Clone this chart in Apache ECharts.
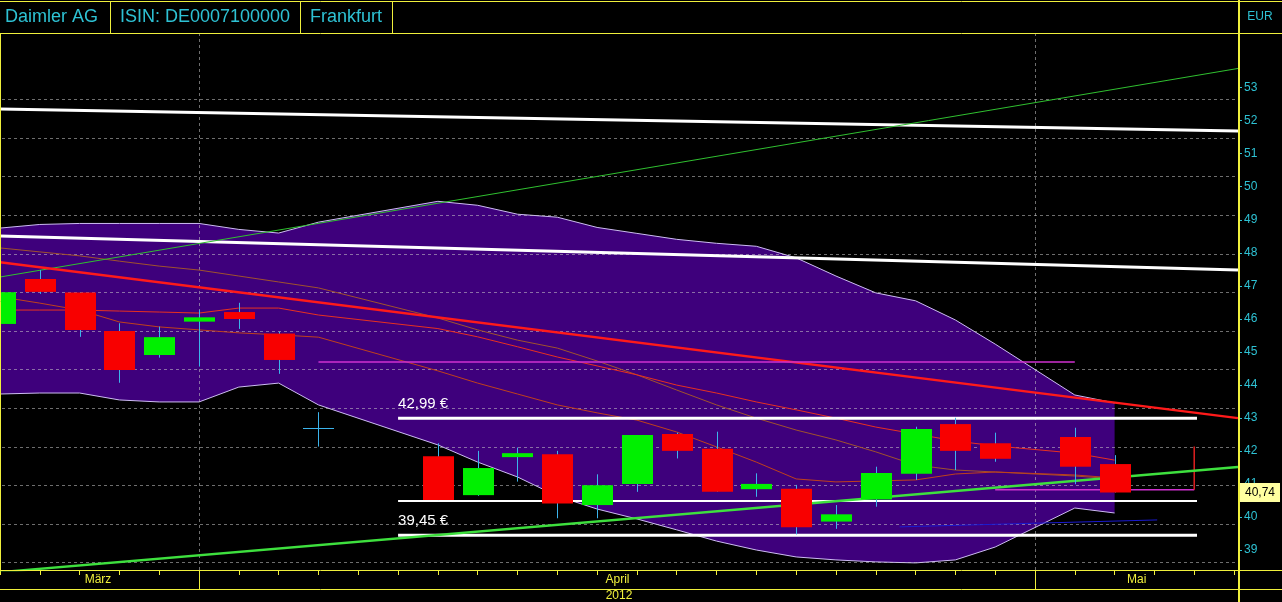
<!DOCTYPE html>
<html><head><meta charset="utf-8">
<script src="https://cdn.jsdelivr.net/npm/echarts@6/dist/echarts.min.js"></script>
<style>html,body{margin:0;padding:0;background:#000;}#c{width:1282px;height:602px;}</style>
</head><body><div id="c"></div>
<script>
// ---- data ----
const days = ['26.03.','27.03.','28.03.','29.03.','30.03.','02.04.','03.04.','04.04.','05.04.','06.04.','09.04.','10.04.','11.04.','12.04.','13.04.','16.04.','17.04.','18.04.','19.04.','20.04.','23.04.','24.04.','25.04.','26.04.','27.04.','30.04.','01.05.','02.05.','03.05.','04.05.','07.05.','08.05.'];
const opens  = [45.84,47.20,46.79,45.63,44.90,45.91,46.20,45.55,42.68,null,null,41.84,40.66,41.81,41.90,40.36,41.00,42.51,42.06,40.84,40.85,39.86,40.53,41.31,42.81,42.23,null,42.42,41.60];
const closes = [46.80,46.81,45.66,44.45,45.44,46.04,45.99,44.75,42.68,null,null,40.51,41.48,41.93,40.41,40.96,42.48,42.00,40.76,41.00,39.69,40.08,41.33,42.66,42.00,41.76,null,41.52,40.74];
const lows   = [45.57,46.75,45.45,44.06,44.82,44.55,45.69,44.33,42.13,null,null,40.51,40.64,41.07,39.96,39.96,40.76,41.77,40.76,40.61,39.47,39.64,40.31,41.12,41.42,41.67,null,40.99,40.74];
const highs  = [47.08,47.47,46.80,45.86,45.76,46.26,46.48,45.60,43.17,null,null,42.23,42.00,42.10,42.00,41.29,42.48,42.55,42.58,41.32,40.97,40.36,41.52,42.73,43.00,42.55,null,42.70,41.87];
const upperBand = [48.74,48.85,48.88,48.88,48.88,48.88,48.70,48.59,48.92,null,null,49.55,49.43,49.16,49.07,48.76,48.58,48.40,48.28,48.19,47.84,47.29,46.78,46.54,45.96,45.23,null,43.69,43.45];
const lowerBand = [43.72,43.75,43.75,43.54,43.48,43.48,43.93,44.05,43.39,null,null,42.18,41.66,41.21,40.63,40.24,39.94,39.61,39.27,39.00,38.79,38.70,38.64,38.61,38.70,39.09,null,40.27,40.12];
const midBand   = [46.26,46.26,46.26,46.23,46.20,46.17,46.32,46.32,46.11,null,null,45.70,45.45,45.15,44.84,44.57,44.30,43.99,43.75,43.48,43.24,42.99,42.72,42.51,42.30,42.15,null,41.93,41.72];
const maSlow    = [48.14,48.02,47.90,47.74,47.59,47.47,47.29,47.11,46.93,null,null,46.02,45.66,45.35,45.11,44.72,44.30,43.84,43.39,42.99,42.63,42.33,41.97,41.57,41.42,41.36,null,41.24,41.15];
const maMid     = [46.66,46.47,46.26,45.90,45.75,45.66,45.57,45.51,45.44,null,null,44.42,44.05,43.72,43.39,43.15,42.93,42.57,42.12,41.66,41.15,41.06,41.09,41.12,41.30,41.36,null,41.27,41.18];
const whiteTop    = [[0, 52.34], [31.1, 51.68]];
const whiteSecond = [[0, 48.50], [31.1, 47.47]];
const greenUpper  = [[0, 47.26], [31.1, 53.57]];
const greenLower  = [[0, 38.33], [31.1, 41.51]];
const redTrend    = [[0, 47.71], [31.1, 42.99]];
const levels      = [42.99, 40.48, 39.45];
const levelSpan   = [10, 30.07];
const magentaHigh = [[8, 44.69], [27, 44.69]];
const magentaLow  = [[25, 40.82], [30, 40.82]];
const redMarker   = [[30, 40.82], [30, 42.13]];
const blueLine    = [[22.6, 39.70], [29.07, 39.91]];
const gridValues  = [52.65, 51.48, 50.31, 49.14, 47.97, 46.81, 45.64, 44.47, 43.30, 42.13, 40.97, 39.80, 38.63];
const yTickLabels = [39, 40, 41, 42, 43, 44, 45, 46, 47, 48, 49, 50, 51, 52, 53];
const monthStarts = [5, 26];
const monthLabels = ['März', 'April', 'Mai'];
const yearLabel = '2012';
const headerCells = ['Daimler AG', 'ISIN: DE0007100000', 'Frankfurt'];
const currencyLabel = 'EUR';
const yMin = 38.395, yMax = 54.643, xMax = 31.1;

// ---- chart ----
const chart = echarts.init(document.getElementById('c'), null, {renderer: 'canvas'});
const Y = '#f0f03c', CY = '#2ec2d4', FONT = 'Liberation Sans, Arial, sans-serif';

function lineSeries(data, color, width, z) {
  return {type: 'line', data: data, symbol: 'none', showSymbol: false, silent: true, clip: true,
    lineStyle: {color: color, width: width}, z: z || 3, connectNulls: true};
}
function idxSeries(arr) {
  const out = [];
  arr.forEach((v, i) => { if (v != null) out.push([i, v]); });
  return out;
}

const candleData = [];
days.forEach((d, i) => { if (opens[i] != null) candleData.push([i, opens[i], closes[i], lows[i], highs[i]]); });

const series = [
  {type: 'custom', z: 1, silent: true, clip: true, data: [[0, upperBand[0]]],
    renderItem: function (params, api) {
      const up = [], lo = [];
      upperBand.forEach((v, i) => { if (v != null) { up.push(api.coord([i, v])); lo.push(api.coord([i, lowerBand[i]])); } });
      return {type: 'group', children: [
        {type: 'polygon', shape: {points: up.concat(lo.slice().reverse())}, style: {fill: '#3e007c'}},
        {type: 'polyline', shape: {points: up}, style: {stroke: '#cdbcf2', lineWidth: 1, fill: null}},
        {type: 'polyline', shape: {points: lo}, style: {stroke: '#cdbcf2', lineWidth: 1, fill: null}}
      ]};
    }},
  {type: 'custom', z: 2, silent: true, clip: true, data: gridValues.map(v => [0, v]),
    renderItem: function (params, api) {
      const cs = params.coordSys;
      const y = Math.round(api.coord([0, api.value(1)])[1]) + 0.5;
      return {type: 'line', shape: {x1: cs.x + 2, y1: y, x2: cs.x + cs.width, y2: y},
        style: {stroke: 'rgba(200,200,200,0.55)', lineWidth: 1, lineDash: [3, 3]}};
    }},
  {type: 'custom', z: 2, silent: true, clip: true, data: monthStarts.map(i => [i, 45]),
    renderItem: function (params, api) {
      const cs = params.coordSys;
      const x = Math.round(api.coord([api.value(0), 45])[0]) + 0.5;
      return {type: 'line', shape: {x1: x, y1: cs.y, x2: x, y2: cs.y + cs.height},
        style: {stroke: 'rgba(200,200,200,0.55)', lineWidth: 1, lineDash: [3, 3]}};
    }},
  lineSeries(idxSeries(maSlow), '#a0522d', 1),
  lineSeries(idxSeries(maMid), '#c0401c', 1),
  lineSeries(idxSeries(midBand), '#e83020', 1),
  lineSeries(whiteTop, '#ffffff', 3),
  lineSeries(whiteSecond, '#ffffff', 3),
  lineSeries(greenUpper, '#30c030', 1),
  lineSeries(redTrend, '#ff1a1a', 2.5),
  lineSeries(magentaHigh, '#d030d0', 1.5),
  lineSeries(magentaLow, '#d030d0', 1.5),
  lineSeries(redMarker, '#e02020', 1.5),
  lineSeries(blueLine, '#1a1ad0', 1),
  lineSeries([[levelSpan[0], levels[0]], [levelSpan[1], levels[0]]], '#ffffff', 3),
  lineSeries([[levelSpan[0], levels[1]], [levelSpan[1], levels[1]]], '#ffffff', 2),
  lineSeries([[levelSpan[0], levels[2]], [levelSpan[1], levels[2]]], '#ffffff', 3),
  lineSeries(greenLower, '#3ee03e', 2.5),
  {type: 'custom', z: 6, silent: true, clip: true, data: candleData, encode: {x: 0, y: [1, 2, 3, 4]},
    renderItem: function (params, api) {
      const i = api.value(0), o = api.value(1), c = api.value(2), l = api.value(3), h = api.value(4);
      const pH = api.coord([i, h]), pL = api.coord([i, l]), pO = api.coord([i, o]), pC = api.coord([i, c]);
      const w = 31;
      const xc = Math.round(pH[0]) + 0.5;
      const ch = [{type: 'line', shape: {x1: xc, y1: pH[1], x2: xc, y2: pL[1]}, style: {stroke: '#3cb4ec', lineWidth: 1}}];
      if (o === c) {
        const yy = Math.round(pO[1]) + 0.5;
        ch.push({type: 'line', shape: {x1: xc - w / 2, y1: yy, x2: xc + w / 2, y2: yy}, style: {stroke: '#3cb4ec', lineWidth: 1}});
      } else {
        const top = Math.min(pO[1], pC[1]);
        ch.push({type: 'rect', shape: {x: Math.round(xc - w / 2), y: top, width: w, height: Math.max(2, Math.abs(pO[1] - pC[1]))},
          style: {fill: c > o ? '#00f000' : '#f80000'}});
      }
      return {type: 'group', children: ch};
    }}
];

const option = {
  backgroundColor: '#000000',
  animation: false,
  grid: {left: 0, right: 44, top: 33, bottom: 32, containLabel: false, outerBoundsMode: 'none'},
  xAxis: {type: 'value', min: 0, max: xMax, interval: 1,
    axisLine: {show: false}, axisTick: {show: true, length: 5, lineStyle: {color: Y}},
    axisLabel: {show: false}, splitLine: {show: false}},
  yAxis: {type: 'value', position: 'right', min: yMin, max: yMax, splitNumber: 16, minInterval: 1, maxInterval: 1,
    axisLine: {show: false}, axisTick: {show: false},
    splitLine: {show: false},
    axisLabel: {color: CY, fontSize: 12, fontFamily: FONT, margin: 6, showMinLabel: false, showMaxLabel: false,
      formatter: v => (Math.abs(v - Math.round(v)) < 1e-6 && yTickLabels.indexOf(Math.round(v)) >= 0) ? String(Math.round(v)) : ''}},
  series: series
};
chart.setOption(option);

// ---- frame & texts ----
const g = [];
function hl(y, x1, x2, w) { g.push({type: 'line', z: 100, shape: {x1: x1, y1: y, x2: x2, y2: y}, style: {stroke: Y, lineWidth: w || 1}}); }
function vl(x, y1, y2, w) { g.push({type: 'line', z: 100, shape: {x1: x, y1: y1, x2: x, y2: y2}, style: {stroke: Y, lineWidth: w || 1}}); }
function tx(text, x, y, opt, z) {
  g.push({type: 'text', z: z || 101, x: x, y: y, style: Object.assign({text: text, fill: CY, font: '18px ' + FONT, textAlign: 'left', textVerticalAlign: 'middle'}, opt || {})});
}
hl(1.5, 0, 1282); hl(33.5, 0, 1282); hl(570.5, 0, 1282); hl(589.5, 0, 1282);
vl(0.5, 33, 570); vl(110.5, 1, 33); vl(300.5, 1, 33); vl(392.5, 1, 33);
vl(1239, 0, 602, 2);
// small cyan ticks beside the price labels
yTickLabels.forEach(v => {
  const y = Math.round(chart.convertToPixel({yAxisIndex: 0}, v)) + 0.5;
  g.push({type: 'line', z: 101, shape: {x1: 1240, y1: y, x2: 1242, y2: y}, style: {stroke: CY, lineWidth: 1}});
});
const pxStart = monthStarts.map(i => Math.round(chart.convertToPixel({xAxisIndex: 0}, i)) + 0.5);
pxStart.forEach(x => vl(x, 570, 589));
tx(headerCells[0], 5, 17); tx(headerCells[1], 120, 17); tx(headerCells[2], 310, 17);
tx(currencyLabel, 1260, 17, {font: '12px ' + FONT, textAlign: 'center'});
const mFont = {fill: Y, font: '12px ' + FONT, textAlign: 'center'};
tx(monthLabels[0], 98, 580, mFont);
tx(monthLabels[1], (pxStart[0] + pxStart[1]) / 2, 580, mFont);
tx(monthLabels[2], (pxStart[1] + 1238) / 2, 580, mFont);
tx(yearLabel, 619, 596, mFont);
[levels[0], levels[2]].forEach(v => {
  const p = chart.convertToPixel({xAxisIndex: 0, yAxisIndex: 0}, [levelSpan[0], v]);
  tx(v.toFixed(2).replace('.', ',') + ' €', p[0], p[1] - 14, {fill: '#ffffff', font: '15px ' + FONT});
});
const lastClose = closes[closes.length - 1];
const py = Math.round(chart.convertToPixel({yAxisIndex: 0}, lastClose));
g.push({type: 'rect', z: 102, shape: {x: 1240, y: py - 9, width: 40, height: 19}, style: {fill: '#ffffa0'}});
tx(lastClose.toFixed(2).replace('.', ','), 1260, py + 0.5, {fill: '#000000', font: '12px ' + FONT, textAlign: 'center'}, 103);
chart.setOption({graphic: g});
</script></body></html>
